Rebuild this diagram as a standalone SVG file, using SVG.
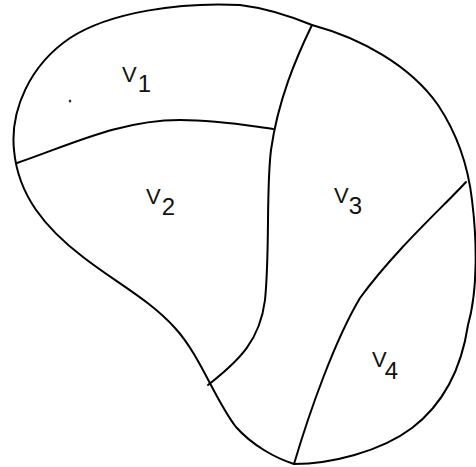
<svg xmlns="http://www.w3.org/2000/svg" width="476" height="467" viewBox="0 0 476 467">
<style>
.ln{fill:none;stroke:#000;stroke-width:2;stroke-linejoin:round;stroke-linecap:round}
.lb{font-family:"Liberation Sans",Arial,sans-serif;font-size:22px;fill:#111}
.sb{font-size:24px}
</style>
<rect width="476" height="467" fill="#fff"/>
<g id="outline">
<path class="ln" d="M312,25 C360,38 410,65 438,105 C458,135 468,165 472,200 C477,240 478,290 468,325 C462,365 446,402 412,428 C380,452 330,464 294,464 C275,458 252,445 236,427 C215,400 200,355 175,328 C150,300 115,282 83,257 C45,228 18,195 14,150 C10,110 30,65 70,38 C110,12 180,2 240,5 C265,8 290,16 312,25 Z"/>
</g>
<g id="boundaries">
<path class="ln" d="M17,163 C70,145 120,120 180,120 C220,120 250,126 273,129"/>
<path class="ln" d="M312,25 C296,58 278,100 271,150 C266,190 270,250 265,300 C260,340 240,360 208,385"/>
<path class="ln" d="M466,182 C445,205 395,250 360,298 C335,340 310,410 294,464"/>
</g>
<ellipse cx="70" cy="101" rx="1.3" ry="1.5" fill="#333"/>
<g id="V1"><text class="lb" x="122" y="82">V<tspan class="sb" dx="1" dy="10">1</tspan></text></g>
<g id="V2"><text class="lb" x="146" y="204">V<tspan class="sb" dx="1" dy="11">2</tspan></text></g>
<g id="V3"><text class="lb" x="334" y="203">V<tspan class="sb" dx="0" dy="11">3</tspan></text></g>
<g id="V4"><text class="lb" x="372" y="367">V<tspan class="sb" dx="-2" dy="12">4</tspan></text></g>
</svg>
